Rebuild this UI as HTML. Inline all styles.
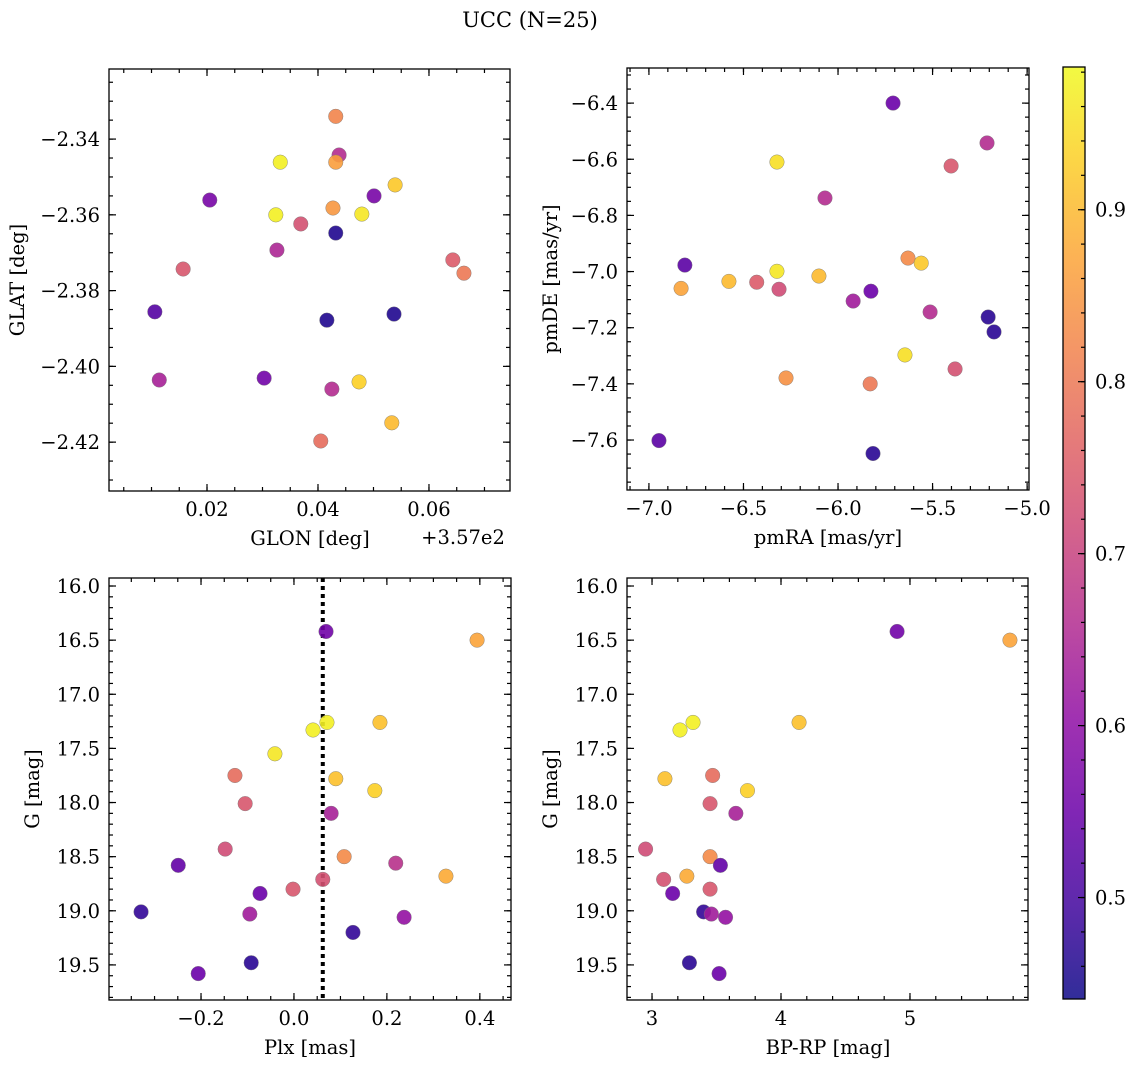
<!DOCTYPE html>
<html><head><meta charset="utf-8"><style>
html,body{margin:0;padding:0;background:#fff;}
svg{display:block;font-family:"DejaVu Serif","Liberation Serif",serif;}
</style></head><body>
<svg id="fig" width="1136" height="1067" viewBox="0 0 1136 1067" xmlns="http://www.w3.org/2000/svg">
<text x="530" y="27" font-size="21" text-anchor="middle">UCC (N=25)</text>
</svg>
<script>
// ---- data ----
const glon = [0.0432,0.0438,0.0432,0.0332,0.0539,0.0501,0.0205,0.0427,0.0324,0.0479,0.0369,0.0432,0.0326,0.0157,0.0643,0.0663,0.0106,0.0416,0.0537,0.0114,0.0303,0.0425,0.0474,0.0533,0.0405];
const glat = [-2.334,-2.3442,-2.3461,-2.3461,-2.3521,-2.355,-2.3561,-2.3582,-2.36,-2.3598,-2.3624,-2.3648,-2.3693,-2.3743,-2.3719,-2.3754,-2.3856,-2.3878,-2.3862,-2.4036,-2.4031,-2.406,-2.4041,-2.4149,-2.4197];
const colGal = [0.82,0.66,0.86,0.97,0.92,0.57,0.57,0.85,0.97,0.96,0.73,0.46,0.65,0.74,0.75,0.80,0.52,0.46,0.46,0.64,0.56,0.66,0.93,0.90,0.78];

const pmra = [-5.709,-5.212,-5.402,-6.323,-6.069,-6.81,-5.63,-5.56,-6.323,-6.101,-6.83,-6.577,-6.43,-6.312,-5.92,-5.826,-5.513,-5.206,-5.175,-5.646,-6.275,-5.381,-5.83,-6.947,-5.815];
const pmde = [-6.4,-6.542,-6.624,-6.61,-6.738,-6.977,-6.952,-6.97,-6.999,-7.016,-7.06,-7.035,-7.038,-7.063,-7.105,-7.07,-7.144,-7.162,-7.215,-7.297,-7.379,-7.347,-7.4,-7.602,-7.648];
const colPm = [0.55,0.66,0.74,0.95,0.66,0.53,0.83,0.92,0.96,0.90,0.87,0.90,0.75,0.72,0.63,0.55,0.66,0.47,0.47,0.95,0.84,0.73,0.80,0.53,0.47];

const plx = [0.069,0.394,0.071,0.041,0.185,-0.041,-0.127,0.090,0.174,-0.105,0.080,-0.148,0.108,-0.249,0.219,-0.073,-0.002,0.062,0.327,-0.329,-0.095,0.237,0.127,-0.092,-0.206];
const gmag3 = [16.42,16.5,17.26,17.33,17.26,17.55,17.75,17.78,17.89,18.01,18.10,18.43,18.50,18.58,18.56,18.84,18.80,18.71,18.68,19.01,19.03,19.06,19.20,19.48,19.58];
const colPlx = [0.56,0.87,0.97,0.97,0.91,0.96,0.78,0.91,0.93,0.74,0.64,0.72,0.83,0.54,0.67,0.55,0.74,0.73,0.88,0.48,0.63,0.61,0.48,0.47,0.55];
const plxMarker = 0.062;

const bprp = [4.90,5.775,3.318,3.217,4.14,3.10,3.47,3.74,3.45,3.65,2.95,3.45,3.53,3.09,3.27,3.16,3.45,3.40,3.46,3.57,3.29,3.52];
const gmag4 = [16.42,16.5,17.26,17.33,17.26,17.78,17.75,17.89,18.01,18.10,18.43,18.50,18.58,18.71,18.68,18.84,18.80,19.01,19.03,19.06,19.48,19.58];
const colCmd = [0.56,0.87,0.97,0.97,0.91,0.91,0.78,0.93,0.74,0.64,0.72,0.83,0.54,0.73,0.88,0.55,0.74,0.48,0.63,0.61,0.47,0.55];

const cbTicks = [0.5,0.6,0.7,0.8,0.9];
const cMin = 0.441, cMax = 0.983;

// ---- helpers ----
const NS = "http://www.w3.org/2000/svg";
const svg = document.getElementById("fig");
const FS = 19.5;
function mk(tag, attrs, parent){
  const e = document.createElementNS(NS, tag);
  for (const k in attrs) e.setAttribute(k, attrs[k]);
  (parent||svg).appendChild(e); return e;
}
const stops = ["#0d0887","#41049d","#6a00a8","#8f0da4","#b12a90","#cc4778","#e16462","#f2844b","#fca636","#fcce25","#f0f921"];
function plasma(t){
  t = Math.max(0, Math.min(1, t));
  const f = t*10, i = Math.min(9, Math.floor(f)), r = f - i;
  const a = stops[i], b = stops[i+1];
  const c = k => Math.round(parseInt(a.substr(k,2),16)*(1-r) + parseInt(b.substr(k,2),16)*r);
  return `rgb(${c(1)},${c(3)},${c(5)})`;
}
const cmap = v => plasma((v - cMin)/(cMax - cMin));
function fmt(v, d){ const s = v.toFixed(d); return s.replace("-", "\u2212"); }

function panel(o){
  const {name, x0, y0, x1, y1, xmin, xmax, ymin, ymax, yrev} = o;
  const g = mk("g", {});
  
  
  const sx = v => x0 + (v - xmin)/(xmax - xmin)*(x1 - x0);
  const sy = yrev ? (v => y0 + (v - ymin)/(ymax - ymin)*(y1 - y0))
                  : (v => y1 - (v - ymin)/(ymax - ymin)*(y1 - y0));
  const tg = mk("g", {stroke:"#000","stroke-width":1.2}, g);
  function ticksX(step, len, labels, dec){
    const s0 = Math.ceil(xmin/step - 1e-9);
    for (let k = s0; k*step <= xmax + 1e-9; k++){
      const x = sx(k*step);
      mk("line",{x1:x,x2:x,y1:y1,y2:y1-len},tg);
      mk("line",{x1:x,x2:x,y1:y0,y2:y0+len},tg);
      if (labels){
        const t = mk("text",{x:x,y:y1+25,"font-size":FS,"text-anchor":"middle",stroke:"none",fill:"#000"},g);
        
        
        t.textContent = fmt(k*step, dec);
      }
    }
  }
  function ticksY(step, len, labels, dec){
    const s0 = Math.ceil(ymin/step - 1e-9);
    for (let k = s0; k*step <= ymax + 1e-9; k++){
      const y = sy(k*step);
      mk("line",{x1:x0,x2:x0+len,y1:y,y2:y},tg);
      mk("line",{x1:x1,x2:x1-len,y1:y,y2:y},tg);
      if (labels){
        const t = mk("text",{x:x0-9,y:y+7,"font-size":FS,"text-anchor":"end",stroke:"none",fill:"#000"},g);
        
        
        t.textContent = fmt(k*step, dec);
      }
    }
  }
  ticksX(o.xminor, 4, false); ticksX(o.xmajor, 7, true, o.xdec);
  ticksY(o.yminor, 4, false); ticksY(o.ymajor, 7, true, o.ydec);
  if (o.vline !== undefined){
    const l = mk("line",{x1:sx(o.vline),x2:sx(o.vline),y1:y0,y2:y1,stroke:"#000","stroke-width":4,"stroke-dasharray":"4,4"},g);
    
    
  }
  for (let i = 0; i < o.xs.length; i++){
    const c = mk("circle",{cx:sx(o.xs[i]),cy:sy(o.ys[i]),r:7.3,fill:cmap(o.cs[i]),"fill-opacity":0.9,stroke:"#777","stroke-width":0.4},g);
    
    
  }
  const fr = mk("rect",{x:x0,y:y0,width:x1-x0,height:y1-y0,fill:"none",stroke:"#000","stroke-width":1.3},g);
  
  
  const xl = mk("text",{x:o.xlx,y:y1+54,"font-size":FS,"text-anchor":"middle"},g);
  
  
  xl.textContent = o.xlabel;
  const yl = mk("text",{x:0,y:0,"font-size":FS,"text-anchor":"middle",transform:`translate(${o.ylx},${(y0+y1)/2}) rotate(-90)`},g);
  
  
  yl.textContent = o.ylabel;
}

panel({name:"glon-glat-panel",x0:109,y0:69,x1:510,y1:491,xmin:0.00234,xmax:0.0746,ymin:-2.4329,ymax:-2.3215,
  xmajor:0.02,xminor:0.005,xdec:2,ymajor:0.02,yminor:0.005,ydec:2,xs:glon,ys:glat,cs:colGal,
  xlabel:"GLON [deg]",xlx:310,ylabel:"GLAT [deg]",ylx:24});
panel({name:"pm-panel",x0:627,y0:68,x1:1029,y1:490,xmin:-7.116,xmax:-4.99,ymin:-7.778,ymax:-6.275,
  xmajor:0.5,xminor:0.1,xdec:1,ymajor:0.2,yminor:0.05,ydec:1,xs:pmra,ys:pmde,cs:colPm,
  xlabel:"pmRA [mas/yr]",xlx:828,ylabel:"pmDE [mas/yr]",ylx:557});
panel({name:"plx-g-panel",x0:109,y0:578,x1:511,y1:1000,xmin:-0.398,xmax:0.467,ymin:15.926,ymax:19.824,yrev:true,
  xmajor:0.2,xminor:0.05,xdec:1,ymajor:0.5,yminor:0.1,ydec:1,xs:plx,ys:gmag3,cs:colPlx,vline:plxMarker,
  xlabel:"Plx [mas]",xlx:310,ylabel:"G [mag]",ylx:39});
panel({name:"cmd-panel",x0:627,y0:578,x1:1028,y1:1000,xmin:2.806,xmax:5.915,ymin:15.926,ymax:19.824,yrev:true,
  xmajor:1,xminor:0.2,xdec:0,ymajor:0.5,yminor:0.1,ydec:1,xs:bprp,ys:gmag4,cs:colCmd,
  xlabel:"BP-RP [mag]",xlx:828,ylabel:"G [mag]",ylx:557});

const off = mk("text",{x:463,y:544,"font-size":FS,"text-anchor":"middle"});


off.textContent = "+3.57e2";

// colorbar
const cb = mk("g",{});


const defs = mk("defs",{},cb);
const lg = mk("linearGradient",{id:"cbg",x1:0,y1:1,x2:0,y2:0},defs);
for (let i = 0; i <= 10; i++) mk("stop",{offset:i/10,"stop-color":stops[i],"stop-opacity":0.85},lg);
const cbx0 = 1063, cbx1 = 1085, cby0 = 67, cby1 = 999;
mk("rect",{x:cbx0,y:cby0,width:cbx1-cbx0,height:cby1-cby0,fill:"url(#cbg)"},cb);
const cy = v => cby1 - (v - cMin)/(cMax - cMin)*(cby1 - cby0);
for (let v = 0.46; v < cMax; v += 0.02){
  const y = cy(v);
  mk("line",{x1:cbx1,x2:cbx1-4,y1:y,y2:y,stroke:"#000","stroke-width":1.2},cb);
}
cbTicks.forEach(v => {
  const y = cy(v);
  mk("line",{x1:cbx1,x2:cbx1-7,y1:y,y2:y,stroke:"#000","stroke-width":1.2},cb);
  const t = mk("text",{x:cbx1+10,y:y+7,"font-size":FS},cb);
  
  
  t.textContent = v.toFixed(1);
});
mk("rect",{x:cbx0,y:cby0,width:cbx1-cbx0,height:cby1-cby0,fill:"none",stroke:"#000","stroke-width":1.3},cb);
</script>
</body></html>
